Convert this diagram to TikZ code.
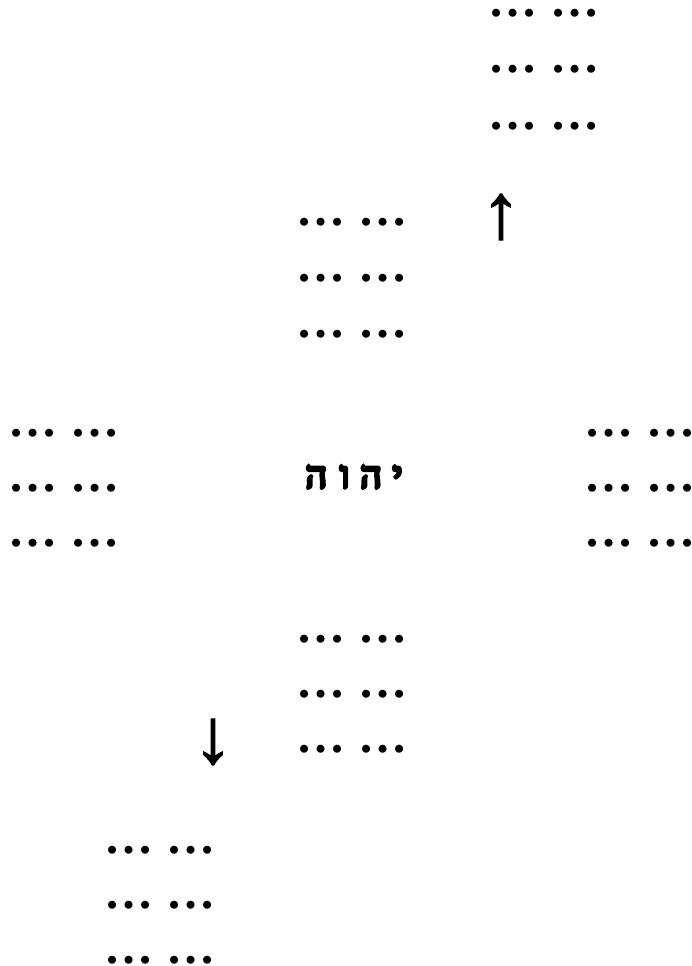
\documentclass[tikz,border=0pt]{standalone}
\usepackage{fontspec}
\setmainfont{Liberation Serif}
\newfontfamily\hebfont[Script=Hebrew, FakeBold=9]{Liberation Serif}
\newfontfamily\arrfont[FakeBold=1.6]{Liberation Serif}
\TeXXeTstate=1
\begin{document}
\begin{tikzpicture}[x=1pt,y=-1pt,
  dotrow/.style={font=\fontsize{49}{56}\selectfont\bfseries, inner sep=0pt, anchor=base},
  arrowsym/.style={font=\arrfont\fontsize{78}{78}\selectfont, inner sep=0pt},
  word/.style={font=\hebfont\fontsize{37}{37}\selectfont, inner sep=0pt}]
\useasboundingbox (0,0) rectangle (691,966);
% top right
\node[dotrow] (tr1) at (544,17) {… …};
\node[dotrow] (tr2) at (544,73) {… …};
\node[dotrow] (tr3) at (544,129) {… …};
\node[arrowsym] (up) at (501,217) {↑};
% upper middle
\node[dotrow] (um1) at (352,225) {… …};
\node[dotrow] (um2) at (352,281) {… …};
\node[dotrow] (um3) at (352,337) {… …};
% left
\node[dotrow] (l1) at (64,436) {… …};
\node[dotrow] (l2) at (64,491) {… …};
\node[dotrow] (l3) at (64,546) {… …};
% right
\node[dotrow] (r1) at (640,436) {… …};
\node[dotrow] (r2) at (640,491) {… …};
\node[dotrow] (r3) at (640,546) {… …};
% centre
\node[word] (yhwh) at (354,477) {\beginR י\hspace{11pt}ה\hspace{11pt}ו\hspace{13pt}ה\endR};
% lower middle
\node[dotrow] (lm1) at (352,642) {… …};
\node[dotrow] (lm2) at (352,697) {… …};
\node[dotrow] (lm3) at (352,752) {… …};
\node[arrowsym] (down) at (213,742) {↓};
% bottom left
\node[dotrow] (bl1) at (160,853) {… …};
\node[dotrow] (bl2) at (160,908) {… …};
\node[dotrow] (bl3) at (160,963) {… …};
\end{tikzpicture}
\end{document}
